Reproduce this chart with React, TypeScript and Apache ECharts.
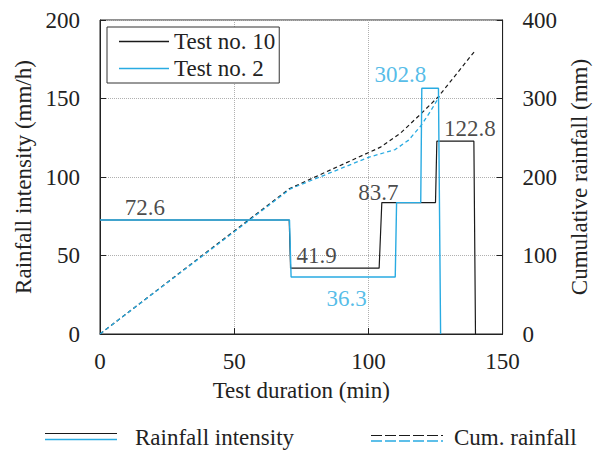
import React, { useEffect, useRef } from "react";
import * as echarts from "echarts";

// Rainfall intensity (mm/h) step profiles: [time (min), intensity]
const test10Intensity: [number, number][] = [
  [0, 72.6], [70.5, 72.6], [71, 41.9], [104, 41.9], [105, 83.7],
  [125, 83.7], [125.5, 122.8], [139.3, 122.8], [139.9, 0],
];
const test2Intensity: [number, number][] = [
  [0, 72.6], [70.6, 72.6], [71.2, 36.3], [110, 36.3], [110.5, 83.7],
  [119.5, 83.7], [119.9, 156.5], [126.1, 156.5], [126.9, 0],
];
// Cumulative rainfall (mm): [time (min), mm]
const test10Cum: [number, number][] = [
  [0, 0], [70.5, 185], [104.5, 238], [112, 256], [118.5, 277], [126, 302], [140, 362],
];
const test2Cum: [number, number][] = [
  [0, 0], [71, 185], [100, 225], [110, 235], [115, 247], [119.5, 265], [123, 283], [126.5, 303],
];
// Annotations: [time, intensity-axis value, text]
const blackLabels: [number, number, string][] = [
  [16.7, 80.3, "72.6"], [80.7, 50.3, "41.9"], [103.7, 90.4, "83.7"], [137.8, 131.2, "122.8"],
];
const blueLabels: [number, number, string][] = [
  [91.9, 22.9, "36.3"], [111.9, 165.6, "302.8"],
];
const xTicks = { min: 0, max: 150, interval: 50 };
const yLeft = { min: 0, max: 200, interval: 50 };
const yRight = { min: 0, max: 400, interval: 100 };

const FONT = "Liberation Serif";
const BLACK = "#1a1a1a";
const BLUE = "#29abe2";
const FS = 23;

export default function App() {
  const ref = useRef<HTMLDivElement>(null);
  useEffect(() => {
    if (!ref.current) return;
    const chart = echarts.init(ref.current, undefined, { renderer: "svg" });
    const axisText = { fontFamily: FONT, fontSize: FS, color: "#222" };
    const grid = { left: 100, right: 94, top: 20, bottom: 116 };
    chart.setOption({
      animation: false,
      grid: { ...grid, show: true, borderColor: "#222", borderWidth: 1, backgroundColor: "transparent" },
      xAxis: {
        type: "value", ...xTicks,
        name: "Test duration (min)", nameLocation: "middle", nameGap: 45,
        nameTextStyle: { ...axisText },
        axisLine: { lineStyle: { color: "#222" } },
        axisTick: { inside: true, length: 6, lineStyle: { color: "#222" } },
        axisLabel: { ...axisText, margin: 16 },
        splitLine: { show: true, lineStyle: { color: "#b0b0b0", type: [1, 1] } },
      },
      yAxis: [
        {
          type: "value", ...yLeft,
          name: "Rainfall intensity (mm/h)", nameLocation: "middle", nameGap: 64,
          nameTextStyle: { ...axisText },
          axisLine: { show: true, lineStyle: { color: "#222" } },
          axisTick: { show: true, inside: true, length: 6, lineStyle: { color: "#222" } },
          axisLabel: { ...axisText, margin: 20 },
          splitLine: { show: true, lineStyle: { color: "#b0b0b0", type: [1, 1] } },
        },
        {
          type: "value", ...yRight, position: "right",
          name: "Cumulative rainfall (mm)", nameLocation: "middle", nameGap: 65,
          nameRotate: 90,
          nameTextStyle: { ...axisText },
          axisLine: { show: true, lineStyle: { color: "#222" } },
          axisTick: { show: true, inside: true, length: 6, lineStyle: { color: "#222" } },
          axisLabel: { ...axisText, margin: 20 },
          splitLine: { show: false },
        },
      ],
      legend: {
        left: 107, top: 27, orient: "vertical",
        data: [
          { name: "Test no. 10", icon: "rect" },
          { name: "Test no. 2", icon: "rect" },
        ],
        itemWidth: 50, itemHeight: 1.3, itemGap: 4,
        padding: [3, 4, 3, 12],
        borderColor: "#333", borderWidth: 1,
        textStyle: { fontFamily: FONT, fontSize: FS, color: "#222" },
        backgroundColor: "#fff",
      },
      series: [
        {
          name: "Test no. 10", type: "line", data: test10Intensity, symbol: "none",
          lineStyle: { color: BLACK, width: 1.2 }, itemStyle: { color: BLACK }, z: 3,
        },
        {
          name: "Test no. 2", type: "line", data: test2Intensity, symbol: "none",
          lineStyle: { color: BLUE, width: 1.4 }, itemStyle: { color: BLUE }, z: 4,
        },
        {
          name: "cum10", type: "line", yAxisIndex: 1, data: test10Cum, symbol: "none",
          lineStyle: { color: BLACK, width: 1.2, type: [4, 3] }, z: 3,
        },
        {
          name: "cum2", type: "line", yAxisIndex: 1, data: test2Cum, symbol: "none",
          lineStyle: { color: BLUE, width: 1.3, type: [4, 3] }, z: 4,
        },
        {
          name: "lblBlack", type: "scatter", data: blackLabels, symbolSize: 0,
          label: { show: true, position: "inside", formatter: (p: any) => p.data[2], fontFamily: FONT, fontSize: FS, color: BLACK },
          z: 6, silent: true,
        },
        {
          name: "lblBlue", type: "scatter", data: blueLabels, symbolSize: 0,
          label: { show: true, position: "inside", formatter: (p: any) => p.data[2], fontFamily: FONT, fontSize: FS, color: BLUE },
          z: 6, silent: true,
        },
      ],
      graphic: [
        { type: "line", shape: { x1: 45, y1: 433.5, x2: 117, y2: 433.5 }, style: { stroke: BLACK, lineWidth: 1.2 } },
        { type: "line", shape: { x1: 45, y1: 439.5, x2: 117, y2: 439.5 }, style: { stroke: BLUE, lineWidth: 1.4 } },
        { type: "text", x: 135, y: 437, style: { text: "Rainfall intensity", fontFamily: FONT, fontSize: FS, fill: "#222", textVerticalAlign: "middle" } },
        { type: "line", shape: { x1: 371, y1: 435.5, x2: 443, y2: 435.5 }, style: { stroke: BLACK, lineWidth: 1.2, lineDash: [11, 3] } },
        { type: "line", shape: { x1: 371, y1: 441, x2: 443, y2: 441 }, style: { stroke: BLUE, lineWidth: 1.3, lineDash: [11, 3] } },
        { type: "text", x: 454, y: 437, style: { text: "Cum. rainfall", fontFamily: FONT, fontSize: FS, fill: "#222", textVerticalAlign: "middle" } },
      ],
    });
    return () => chart.dispose();
  }, []);
  return <div ref={ref} style={{ width: 599, height: 450, position: "absolute", left: 0, top: 0 }} />;
}
